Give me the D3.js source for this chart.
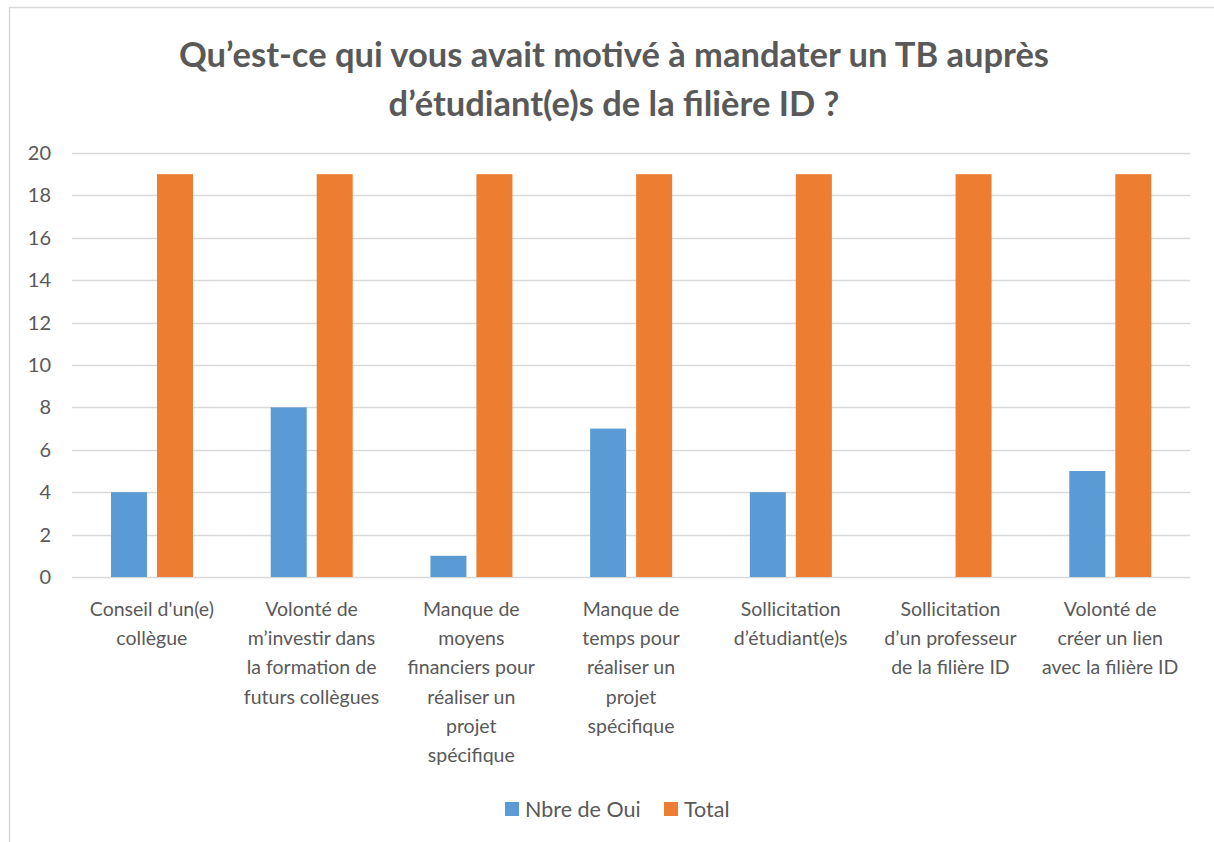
<!DOCTYPE html>
<meta charset="utf-8">
<style>
  body { margin: 0; background: #fff; }
  text { font-family: Lato, "Open Sans", sans-serif; fill: #595959; }
</style>
<body>
<script src="https://d3js.org/d3.v7.min.js"></script>
<script>

// data
var categories = [
  "Conseil d'un(e)\ncollègue",
  "Volonté de\nm’investir dans\nla formation de\nfuturs collègues",
  "Manque de\nmoyens\nfinanciers pour\nréaliser un\nprojet\nspécifique",
  "Manque de\ntemps pour\nréaliser un\nprojet\nspécifique",
  "Sollicitation\nd’étudiant(e)s",
  "Sollicitation\nd’un professeur\nde la filière ID",
  "Volonté de\ncréer un lien\navec la filière ID"
];
var seriesNames = ["Nbre de Oui", "Total"];
var nbreOui = [4, 8, 1, 7, 4, 0, 5];
var total = [19, 19, 19, 19, 19, 19, 19];
var yTicks = [0, 2, 4, 6, 8, 10, 12, 14, 16, 18, 20];
var colors = ["#5B9BD5", "#ED7D31"];

var W = 1214, H = 842;
var plot = {left: 72, right: 1190, top: 153, bottom: 577};

var svg = d3.select("body").append("svg")
    .attr("width", W)
    .attr("height", H);

// chart frame
svg.append("rect")
    .attr("x", 9.5).attr("y", 7.5)
    .attr("width", 1230).attr("height", 900)
    .attr("fill", "#fff")
    .attr("stroke", "#D9D9D9")
    .attr("stroke-width", 1.5);

// title
svg.append("text")
    .attr("x", 614).attr("y", 67)
    .attr("text-anchor", "middle")
    .style("font-size", "34.5px").style("font-weight", "bold")
    .text("Qu’est-ce qui vous avait motivé à mandater un TB auprès");
svg.append("text")
    .attr("x", 614).attr("y", 116)
    .attr("text-anchor", "middle")
    .style("font-size", "34.5px").style("font-weight", "bold")
    .text("d’étudiant(e)s de la filière ID ?");

var x = d3.scaleBand()
    .domain(d3.range(categories.length))
    .range([plot.left, plot.right])
    .padding(0);

var xs = d3.scaleBand()
    .domain(seriesNames)
    .range([39, 121])
    .paddingInner(0.217);

var y = d3.scaleLinear()
    .domain([0, 20])
    .range([plot.bottom, plot.top]);

// gridlines
svg.append("g").selectAll("line")
    .data(yTicks)
    .enter().append("line")
    .attr("x1", plot.left).attr("x2", plot.right)
    .attr("y1", function(d) { return Math.round(y(d)) + 0.5; })
    .attr("y2", function(d) { return Math.round(y(d)) + 0.5; })
    .attr("stroke", "#D9D9D9")
    .attr("stroke-width", 1.3);

// y tick labels
svg.append("g").selectAll("text")
    .data(yTicks)
    .enter().append("text")
    .attr("x", 51)
    .attr("y", function(d) { return y(d); })
    .attr("dy", "0.35em")
    .attr("text-anchor", "end")
    .style("font-size", "20px")
    .text(function(d) { return d; });

// bars
var rows = categories.map(function(c, i) {
  return {i: i, values: [nbreOui[i], total[i]]};
});

var groups = svg.append("g").selectAll("g")
    .data(rows)
    .enter().append("g")
    .attr("transform", function(d) { return "translate(" + x(d.i) + ",0)"; });

groups.selectAll("rect")
    .data(function(d) { return d.values.map(function(v, k) { return {k: k, v: v}; }); })
    .enter().append("rect")
    .filter(function(d) { return d.v > 0; })
    .attr("x", function(d) { return xs(seriesNames[d.k]); })
    .attr("width", xs.bandwidth())
    .attr("y", function(d) { return y(d.v); })
    .attr("height", function(d) { return y(0) - y(d.v); })
    .attr("fill", function(d) { return colors[d.k]; });

// category labels
var labels = svg.append("g").selectAll("text")
    .data(categories)
    .enter().append("text")
    .attr("text-anchor", "middle")
    .style("font-size", "19.5px")
    .attr("transform", function(d, i) { return "translate(" + (x(i) + x.bandwidth() / 2) + ",616)"; });

labels.selectAll("tspan")
    .data(function(d) { return d.split("\n"); })
    .enter().append("tspan")
    .attr("x", 0)
    .attr("y", function(d, j) { return j * 29.2; })
    .text(function(d) { return d; });

// legend
var legendX = [505, 664];
var legend = svg.append("g").selectAll("g")
    .data(seriesNames)
    .enter().append("g")
    .attr("transform", function(d, i) { return "translate(" + legendX[i] + ",802)"; });

legend.append("rect")
    .attr("width", 14).attr("height", 14)
    .attr("fill", function(d, i) { return colors[i]; });

legend.append("text")
    .attr("x", 20).attr("y", 7)
    .attr("dy", "0.35em")
    .style("font-size", "21.5px")
    .text(function(d) { return d; });

</script>
</body>
</html>
